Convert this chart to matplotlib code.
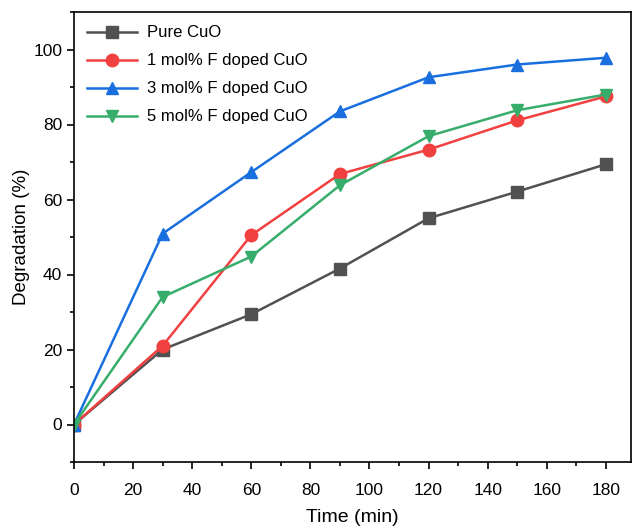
#!/usr/bin/env python3

import matplotlib
matplotlib.use("Agg")
from matplotlib import pyplot as plt
from matplotlib.ticker import MultipleLocator

# * Data

TIME = [0, 30, 60, 90, 120, 150, 180]  # [min]
PURE_CUO = [0, 20.0, 29.4, 41.6, 55.0, 62.1, 69.4]
F1_CUO = [0, 21.0, 50.5, 66.8, 73.3, 81.1, 87.5]
F3_CUO = [0, 50.9, 67.3, 83.5, 92.6, 96.0, 97.8]
F5_CUO = [0, 34.0, 44.8, 63.8, 76.9, 83.8, 88.0]
LABELS = ["Pure CuO", "1 mol% F doped CuO", "3 mol% F doped CuO", "5 mol% F doped CuO"]

# * Style

COLORS = ["#515151", "#F14040", "#1A6FDF", "#37AD6B"]
MARKERS = ["s", "o", "^", "v"]
plt.rcParams["font.family"] = ["Liberation Sans", "DejaVu Sans"]
plt.rcParams["font.size"] = 12.5

# * Plot

fig = plt.figure(figsize=(6.33, 5.29), dpi=100)
ax = fig.add_axes([74 / 633, 1 - 462 / 529, (631 - 74) / 633, 450 / 529])

series = [PURE_CUO, F1_CUO, F3_CUO, F5_CUO]
for vals, lab, col, mk in zip(series, LABELS, COLORS, MARKERS):
    ax.plot(TIME, vals, color=col, marker=mk, label=lab, lw=1.8, ms=9)

ax.set_xlim(0, 188.5)
ax.set_ylim(-10, 110)
ax.xaxis.set_major_locator(MultipleLocator(20))
ax.xaxis.set_minor_locator(MultipleLocator(10))
ax.set_yticks([0, 20, 40, 60, 80, 100])
ax.yaxis.set_minor_locator(MultipleLocator(10))
ax.tick_params(which="major", direction="out", length=5, width=1.2)
ax.tick_params(which="minor", direction="out", length=3, width=1.2)
ax.tick_params(axis="x", which="major", pad=10)
for sp in ax.spines.values():
    sp.set_linewidth(1.2)

ax.set_xlabel("Time (min)", fontsize=14, labelpad=8)
ax.set_ylabel("Degradation (%)", fontsize=13.5, labelpad=2)
ax.legend(loc="upper left", frameon=False, handlelength=3.0, fontsize=12,
          borderaxespad=0.4, labelspacing=0.78, handletextpad=0.6)

fig.savefig("out.png", dpi=100)
